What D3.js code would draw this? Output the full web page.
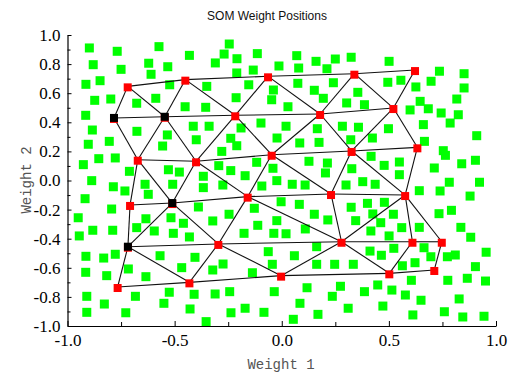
<!DOCTYPE html>
<html>
<head>
<meta charset="utf-8">
<script src="https://cdn.jsdelivr.net/npm/d3@7/dist/d3.min.js"></script>
<style>
  body { margin: 0; background: #fff; }
</style>
</head>
<body>
<div id="chart"></div>
<script>
// input vectors (green)
const samples = [
  [-0.898,0.911],[-0.768,0.888],[-0.573,0.920],[-0.431,0.860],[-0.880,0.796],[-0.750,0.764],[-0.621,0.806],[-0.532,0.782],
  [-0.610,0.730],[-0.914,0.661],[-0.848,0.686],[-0.523,0.658],[-0.873,0.551],[-0.798,0.560],[-0.588,0.565],[-0.677,0.531],
  [-0.451,0.507],[-0.915,0.448],[-0.884,0.347],[-0.676,0.338],[-0.534,0.313],[-0.413,0.373],[-0.903,0.249],[-0.805,0.269],
  [-0.556,0.237],[-0.399,0.280],[-0.854,0.150],[-0.777,0.155],[-0.926,0.109],[-0.711,0.063],[-0.529,0.074],[-0.478,0.058],
  [-0.366,0.029],
  [-0.245,0.938],[-0.269,0.869],[-0.310,0.808],[-0.209,0.837],[-0.114,0.872],[0.070,0.858],[0.160,0.819],[0.250,0.835],
  [-0.210,0.739],[-0.133,0.759],[-0.013,0.787],[0.079,0.773],[0.211,0.768],[-0.350,0.647],[-0.154,0.658],[0.075,0.668],
  [0.152,0.620],[0.241,0.672],[-0.039,0.622],[-0.213,0.569],[-0.047,0.555],[0.194,0.565],[-0.355,0.503],[0.029,0.507],
  [-0.339,0.373],[-0.190,0.361],[-0.097,0.395],[0.020,0.373],[0.283,0.373],[0.166,0.356],[-0.238,0.290],[-0.210,0.239],
  [-0.022,0.292],[0.084,0.258],[0.174,0.262],[-0.280,0.200],[-0.117,0.125],[-0.294,0.102],[-0.238,0.068],[-0.171,0.033],
  [-0.041,0.084],[0.127,0.132],[0.213,0.120],[0.204,0.052],
  [0.324,0.847],[0.501,0.819],[0.736,0.751],[0.851,0.734],[0.495,0.675],[0.556,0.689],[0.697,0.682],[0.851,0.636],
  [0.626,0.643],[0.355,0.606],[0.817,0.560],[0.303,0.533],[0.386,0.521],[0.646,0.544],[0.684,0.493],[0.599,0.485],
  [0.744,0.464],[0.824,0.452],[0.786,0.395],[0.661,0.384],[0.358,0.366],[0.498,0.356],[0.910,0.308],[0.322,0.280],
  [0.423,0.292],[0.666,0.269],[0.754,0.205],[0.764,0.173],[0.417,0.166],[0.478,0.104],[0.549,0.127],[0.549,0.040],
  [0.712,0.086],[0.840,0.115],[0.904,0.139],[0.327,0.081],
  [-0.887,-0.001],[-0.786,-0.043],[-0.732,-0.072],[-0.638,-0.026],[-0.509,-0.026],[-0.366,-0.049],[-0.623,-0.095],[-0.918,-0.125],
  [-0.794,-0.196],[-0.389,-0.182],[-0.950,-0.256],[-0.634,-0.263],[-0.517,-0.256],[-0.459,-0.294],[-0.882,-0.342],[-0.789,-0.342],
  [-0.677,-0.324],[-0.595,-0.347],[-0.506,-0.363],[-0.431,-0.388],[-0.945,-0.381],[-0.914,-0.521],[-0.831,-0.533],[-0.777,-0.507],
  [-0.568,-0.517],[-0.405,-0.528],[-0.915,-0.631],[-0.817,-0.654],[-0.716,-0.608],[-0.634,-0.661],[-0.467,-0.599],[-0.910,-0.796],
  [-0.828,-0.849],[-0.683,-0.796],[-0.525,-0.768],[-0.550,-0.844],[-0.409,-0.782],[-0.910,-0.906],[-0.728,-0.909],[-0.428,-0.883],
  [-0.275,-0.031],[-0.093,-0.038],[-0.023,-0.001],[0.049,-0.026],[0.109,-0.031],[-0.128,-0.191],[-0.003,-0.146],[0.082,-0.164],
  [0.152,-0.232],[0.215,-0.271],[-0.322,-0.278],[-0.246,-0.232],[-0.023,-0.276],[-0.112,-0.308],[-0.176,-0.363],[-0.037,-0.363],
  [0.020,-0.366],[0.110,-0.333],[-0.063,-0.489],[0.059,-0.517],[0.163,-0.455],[-0.322,-0.615],[-0.274,-0.574],[-0.137,-0.634],
  [-0.044,-0.576],[0.163,-0.576],[0.247,-0.576],[-0.311,-0.780],[-0.243,-0.764],[-0.035,-0.764],[0.118,-0.737],[0.274,-0.727],
  [0.236,-0.796],[0.085,-0.844],[-0.237,-0.909],[-0.171,-0.878],[-0.083,-0.906],[-0.353,-0.970],[0.054,-0.954],[0.169,-0.920],
  [0.300,-0.031],[0.378,-0.008],[0.436,-0.026],[0.642,-0.070],[0.739,-0.072],[0.782,-0.012],[0.923,-0.012],[0.879,-0.107],
  [0.324,-0.184],[0.400,-0.157],[0.479,-0.150],[0.425,-0.230],[0.521,-0.232],[0.345,-0.276],[0.462,-0.290],[0.734,-0.228],
  [0.792,-0.205],[0.416,-0.347],[0.501,-0.381],[0.560,-0.324],[0.642,-0.322],[0.836,-0.322],[0.882,-0.390],[0.664,-0.462],
  [0.523,-0.466],[0.412,-0.485],[0.465,-0.514],[0.696,-0.524],[0.773,-0.524],[0.810,-0.512],[0.954,-0.493],[0.334,-0.576],
  [0.563,-0.586],[0.622,-0.565],[0.904,-0.592],[0.386,-0.764],[0.448,-0.718],[0.514,-0.753],[0.605,-0.686],[0.577,-0.787],
  [0.650,-0.823],[0.775,-0.686],[0.866,-0.672],[0.951,-0.691],[0.828,-0.814],[0.310,-0.878],[0.472,-0.863],[0.612,-0.924],
  [0.759,-0.902],[0.845,-0.938],[0.944,-0.933]
];

// neuron weight positions, 6 rows of 5 (top row first)
const neuronX = [-0.719,-0.450,-0.064,0.339,0.622, -0.783,-0.546,-0.217,0.179,0.521,
                 -0.672,-0.400,-0.047,0.326,0.633, -0.708,-0.511,-0.159,0.230,0.576,
                 -0.718,-0.296,0.279,0.610,0.747, -0.766,-0.431,-0.003,0.502,0.712];
const neuronY = [0.647,0.693,0.716,0.734,0.759, 0.430,0.438,0.448,0.457,0.498,
                 0.143,0.132,0.177,0.203,0.228, -0.168,-0.155,-0.111,-0.093,-0.100,
                 -0.455,-0.436,-0.421,-0.421,-0.421, -0.732,-0.700,-0.654,-0.638,-0.615];

// neighbour links between neurons (index pairs)
const links = [
  [0,1],[1,2],[2,3],[3,4],
  [0,5],[0,6],[1,6],[1,7],[2,7],[2,8],[3,8],[3,9],[4,9],
  [5,6],[6,7],[7,8],[8,9],
  [5,10],[6,10],[6,11],[7,11],[7,12],[8,12],[8,13],[9,13],[9,14],
  [10,11],[11,12],[12,13],[13,14],
  [10,15],[10,16],[11,16],[11,17],[12,17],[12,18],[13,18],[13,19],[14,19],
  [15,16],[16,17],[17,18],[18,19],
  [15,20],[16,20],[16,21],[17,21],[17,22],[18,22],[19,22],[19,23],[19,24],
  [20,21],[21,22],[22,23],[23,24],
  [20,25],[20,26],[21,26],[21,27],[22,27],[22,28],[23,28],[24,29],
  [25,26],[26,27],[27,28],[28,29]
];

const blackNeurons = [5, 6, 16, 20];

const xMajor = [-1, -0.5, 0, 0.5, 1];
const xTicks = [-1, -0.75, -0.5, -0.25, 0, 0.25, 0.5, 0.75, 1];
const yTicks = [-1, -0.9, -0.8, -0.7, -0.6, -0.5, -0.4, -0.3, -0.2, -0.1, 0, 0.1, 0.2, 0.3, 0.4, 0.5, 0.6, 0.7, 0.8, 0.9, 1];

const width = 512;
const height = 376;

const svg = d3.select('#chart').append('svg')
  .attr('width', width)
  .attr('height', height);

const x = d3.scaleLinear().domain([-1, 1]).range([67.5, 496]);
const y = d3.scaleLinear().domain([-1, 1]).range([326, 35]);

// title
svg.append('text')
  .attr('x', 267)
  .attr('y', 20)
  .attr('text-anchor', 'middle')
  .attr('font-family', 'Liberation Sans, Arial, sans-serif')
  .attr('font-size', '12px')
  .attr('fill', '#111')
  .text('SOM Weight Positions');

// inputs
const sq = 9;
svg.append('g').selectAll('rect')
  .data(samples)
  .enter().append('rect')
    .attr('x', d => x(d[0]) - sq / 2)
    .attr('y', d => y(d[1]) - sq / 2)
    .attr('width', sq)
    .attr('height', sq)
    .attr('fill', '#00ff00');

// links
svg.append('g').selectAll('line')
  .data(links)
  .enter().append('line')
    .attr('x1', d => x(neuronX[d[0]]))
    .attr('y1', d => y(neuronY[d[0]]))
    .attr('x2', d => x(neuronX[d[1]]))
    .attr('y2', d => y(neuronY[d[1]]))
    .attr('stroke', '#111')
    .attr('stroke-width', 1.1);

// neurons
const ns = 8;
svg.append('g').selectAll('rect')
  .data(neuronX)
  .enter().append('rect')
    .attr('x', (d, i) => x(neuronX[i]) - ns / 2)
    .attr('y', (d, i) => y(neuronY[i]) - ns / 2 + 1)
    .attr('width', ns)
    .attr('height', ns)
    .attr('fill', '#ff0000');

svg.append('g').selectAll('rect')
  .data(blackNeurons)
  .enter().append('rect')
    .attr('x', i => x(neuronX[i]) - ns / 2)
    .attr('y', i => y(neuronY[i]) - ns / 2)
    .attr('width', ns)
    .attr('height', ns)
    .attr('fill', '#000');

// axes
const fmt = d => d.toFixed(1);

const xAxis = svg.append('g')
  .attr('transform', `translate(0,${y(-1)})`)
  .call(d3.axisBottom(x)
    .tickValues(xTicks)
    .tickSizeInner(-4)
    .tickSizeOuter(0)
    .tickPadding(8)
    .tickFormat(d => xMajor.includes(d) ? fmt(d) : ''));

const yAxis = svg.append('g')
  .attr('transform', `translate(${x(-1)},0)`)
  .call(d3.axisLeft(y)
    .tickValues(yTicks)
    .tickSizeInner(-3)
    .tickSizeOuter(0)
    .tickPadding(7)
    .tickFormat(d => Math.round(d * 10) % 2 === 0 ? fmt(d) : ''));

[xAxis, yAxis].forEach(g => {
  g.select('.domain').attr('stroke', '#000').attr('stroke-width', 1.2);
  g.selectAll('.tick line').attr('stroke', '#000');
  g.selectAll('.tick text')
    .attr('font-family', 'Liberation Serif, Times New Roman, serif')
    .attr('font-size', '17px')
    .attr('fill', '#000');
});

xAxis.selectAll('.tick line').filter(d => xMajor.includes(d)).attr('y2', -5);
yAxis.selectAll('.tick line').filter(d => Math.round(d * 10) % 2 === 0).attr('x2', 4);

// axis titles
svg.append('text')
  .attr('x', 281)
  .attr('y', 369)
  .attr('text-anchor', 'middle')
  .attr('font-family', 'Liberation Mono, monospace')
  .attr('font-size', '14px')
  .attr('fill', '#555')
  .text('Weight 1');

svg.append('text')
  .attr('transform', 'translate(31,180) rotate(-90)')
  .attr('text-anchor', 'middle')
  .attr('font-family', 'Liberation Mono, monospace')
  .attr('font-size', '14px')
  .attr('fill', '#555')
  .text('Weight 2');
</script>
</body>
</html>
